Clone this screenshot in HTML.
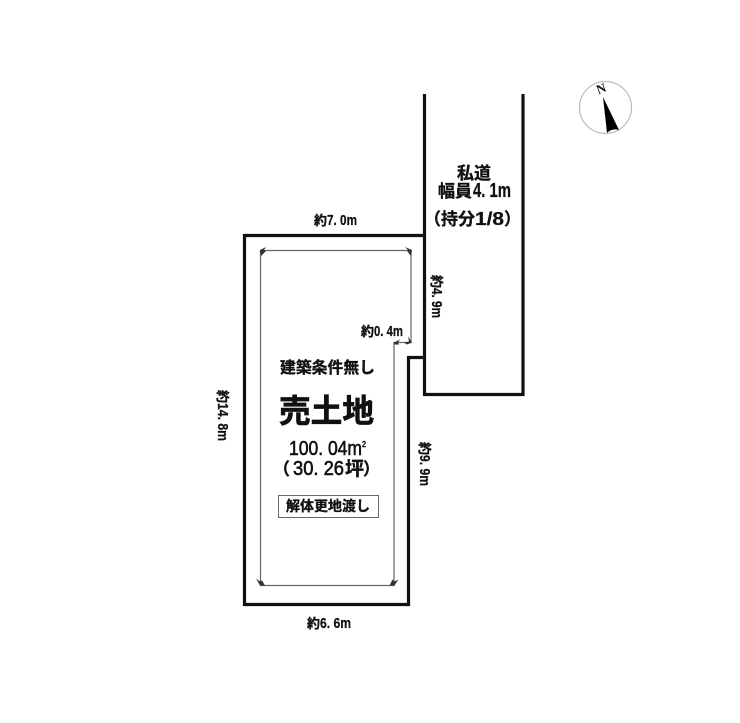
<!DOCTYPE html>
<html lang="ja">
<head>
<meta charset="utf-8">
<style>
html,body{margin:0;padding:0;background:#fff;}
svg{display:block;}
text{font-family:"Liberation Sans","Noto Sans CJK JP",sans-serif;font-weight:bold;fill:#111;}
.j{stroke:#111;stroke-width:.35;}
.d{stroke:#111;stroke-width:.25;}
.n{font-weight:normal;stroke:#111;stroke-width:.6;}
</style>
</head>
<body>
<svg width="740" height="723" viewBox="0 0 740 723" xmlns="http://www.w3.org/2000/svg">
<rect width="740" height="723" fill="#fff"/>
<g style="filter:blur(.35px)">
<!-- Lot and road -->
<g fill="none" stroke="#111" stroke-width="3.2">
<path d="M424.5 94V394.5H523V94"/>
<path d="M424.5 235.500H244.500V604.500H408.500V357.500H424.500"/>
</g>
<!-- Dimension lines -->
<path d="M260.500 250.500H411V342.500H394V585.500H260.500V250.500Z" fill="none" stroke="#666" stroke-width="1.2"/>
<g fill="#333">
<path d="M260 250l6-3-2 3 2 1-3 3-2 2z"/>
<path d="M412 250l-7-3 3 3-1 1 4 5z"/>
<path d="M412 342.500l-4-6 1 5-5 1 3 2z"/>
<path d="M394 342.500l6-3-2 3 1 2-5 0z"/>
<path d="M260 585.500l-4-7 4 3 2-1 3 5z"/>
<path d="M394.500 585.500l4-6-4 2-2-2-3 6z"/>
</g>
<!-- Compass -->
<circle cx="605.500" cy="107.500" r="26" fill="#fff" stroke="#bbb" stroke-width="1.2"/>
<path d="M603 97L619 130Q612 128 607 133Z" fill="#000"/>
<text x="601" y="93" font-size="13" text-anchor="middle" transform="rotate(-20 601 88)" style="font-family:'Liberation Serif',serif;font-weight:bold">N</text>
<!-- Dimension labels -->
<g transform="translate(314,225)"><text class="j" font-size="13">約</text><text class="d" x="13" font-size="15" textLength="30" lengthAdjust="spacingAndGlyphs">7. 0m</text></g>
<g transform="translate(307,628)"><text class="j" font-size="13">約</text><text class="d" x="13" font-size="15" textLength="31" lengthAdjust="spacingAndGlyphs">6. 6m</text></g>
<g transform="translate(361,336)"><text class="j" font-size="13">約</text><text class="d" x="13" font-size="15" textLength="29" lengthAdjust="spacingAndGlyphs">0. 4m</text></g>
<g transform="translate(432,275) rotate(90)"><text class="j" font-size="13">約</text><text class="d" x="13" font-size="15" textLength="30" lengthAdjust="spacingAndGlyphs">4. 9m</text></g>
<g transform="translate(420,442) rotate(90)"><text class="j" font-size="13">約</text><text class="d" x="13" font-size="15" textLength="31" lengthAdjust="spacingAndGlyphs">9. 9m</text></g>
<g transform="translate(218,390) rotate(90)"><text class="j" font-size="13">約</text><text class="d" x="13" font-size="15" textLength="38" lengthAdjust="spacingAndGlyphs">14. 8m</text></g>
<!-- Road labels -->
<text class="j" x="457" y="179" font-size="17">私道</text>
<text class="j" x="438" y="197" font-size="17">幅員</text>
<text class="d" x="473" y="197" font-size="20" textLength="38" lengthAdjust="spacingAndGlyphs">4. 1m</text>
<text class="j" x="424" y="225" font-size="17">（持分</text>
<text class="d" x="475" y="225" font-size="18" textLength="29" lengthAdjust="spacingAndGlyphs">1/8</text>
<text class="j" x="504" y="225" font-size="17">）</text>
<!-- Center labels -->
<text class="j" x="280" y="373" font-size="16" textLength="95" lengthAdjust="spacingAndGlyphs">建築条件無し</text>
<text x="279" y="422" font-size="32" textLength="95" lengthAdjust="spacingAndGlyphs" stroke="#111" stroke-width=".7">売土地</text>
<text class="n" x="289" y="455" font-size="20" textLength="73" lengthAdjust="spacingAndGlyphs">100. 04m</text>
<text class="n" x="362" y="447" font-size="8" textLength="4" lengthAdjust="spacingAndGlyphs">2</text>
<text class="j" x="273" y="475" font-size="17">（</text>
<text class="n" x="293" y="475" font-size="20" textLength="51" lengthAdjust="spacingAndGlyphs">30. 26</text>
<text class="j" x="345" y="475" font-size="19">坪</text>
<text class="j" x="363" y="475" font-size="17">）</text>
<rect x="278.500" y="495.500" width="100" height="22" fill="#fff" stroke="#666" stroke-width="1"/>
<text class="j" x="286" y="511" font-size="14" textLength="84" lengthAdjust="spacingAndGlyphs">解体更地渡し</text>
</g>
</svg>
</body>
</html>
